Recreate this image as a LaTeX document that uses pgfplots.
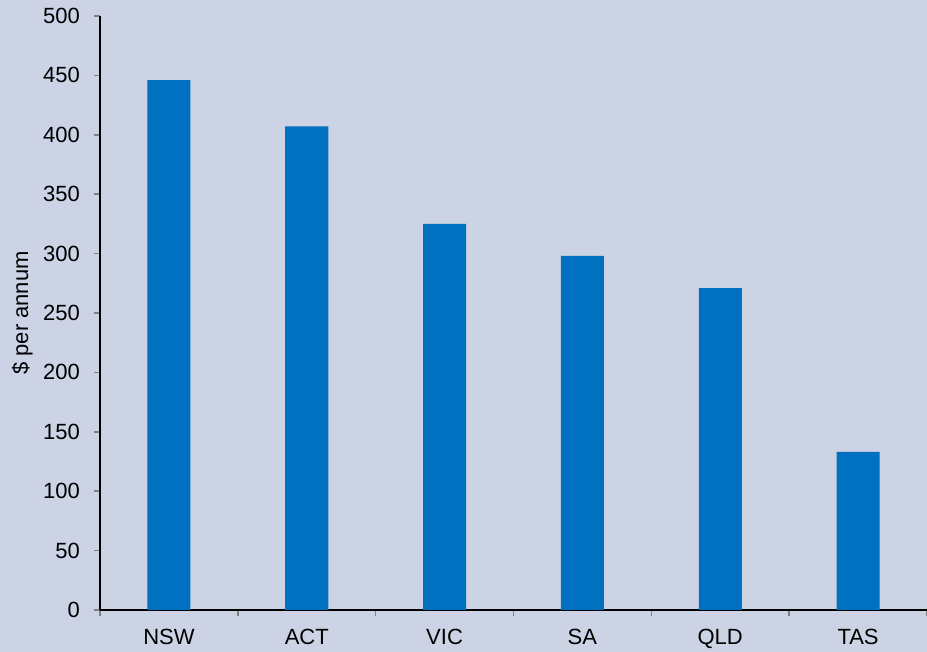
\documentclass[border=0pt]{standalone}
\usepackage{pgfplots}
\pgfplotsset{compat=1.18}
\usepackage{fontspec}
\setmainfont{Liberation Sans}
\definecolor{bgc}{RGB}{204,211,229}
\definecolor{barc}{RGB}{0,112,192}
\begin{document}
\begin{tikzpicture}
\useasboundingbox (-50pt,-21pt) rectangle (413.5pt,305pt);
\fill[bgc] (-50pt,-21pt) rectangle (413.5pt,305pt);
\begin{axis}[
  at={(0pt,0pt)}, anchor=south west,
  scale only axis, width=413.5pt, height=297pt,
  xmin=-0.5, xmax=5.5, ymin=0, ymax=500,
  axis x line*=bottom, axis y line*=left,
  axis line style={-, line width=0.8pt},
  xtick={0,1,2,3,4,5},
  xticklabels={NSW,ACT,VIC,SA,QLD,TAS},
  major x tick style={draw=none},
  minor xtick={-0.5,0.5,1.5,2.5,3.5,4.5,5.5},
  minor x tick style={line width=0.8pt},
  minor tick length=3pt,
  ytick={0,50,...,500},
  major tick length=3pt,
  y tick style={line width=0.8pt},
  tick align=outside,
  tick pos=left,
  font=\fontsize{11}{13}\selectfont,
  yticklabel style={font=\fontsize{11}{13}\selectfont, xshift=-3.5pt},
  xticklabel style={font=\fontsize{11}{13}\selectfont, yshift=-3pt},
  /pgf/number format/assume math mode=true,
  ylabel={\$ per annum},
  ylabel style={at={(axis description cs:-0.094,0.5)}, anchor=center, font=\fontsize{11}{13}\selectfont},
]
\addplot[ybar, bar width=21.5pt, fill=barc, draw=none] coordinates {
  (0,446) (1,407) (2,325) (3,298) (4,271) (5,133)
};
\end{axis}
\end{tikzpicture}
\end{document}
